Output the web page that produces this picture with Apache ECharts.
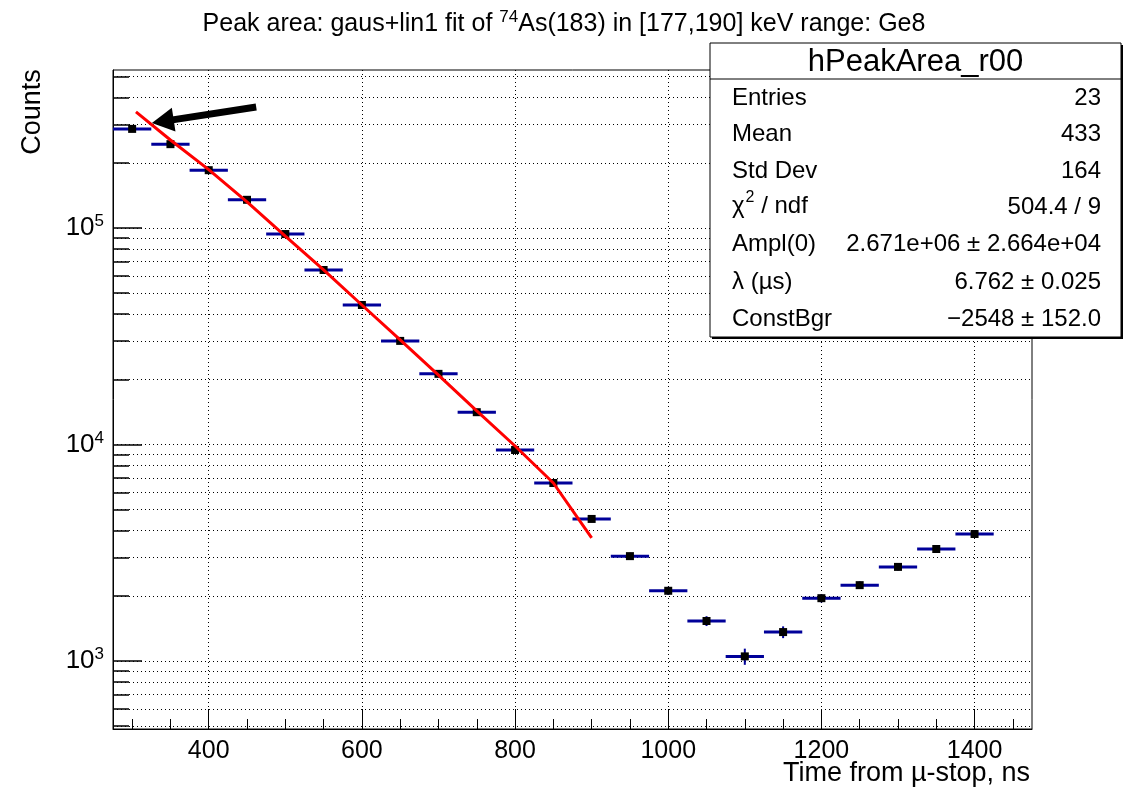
<!DOCTYPE html>
<html>
<head>
<meta charset="utf-8">
<title>hPeakArea_r00</title>
<script src="https://cdn.jsdelivr.net/npm/echarts@6/dist/echarts.min.js"></script>
<style>
  html, body { margin: 0; padding: 0; background: #ffffff; }
  #chart { width: 1128px; height: 789px; }
</style>
</head>
<body>
<div id="chart"></div>
<script>
// Histogram bins: centre of each 50 ns time bin and the fitted peak area in it
const binWidth = 50;
const binCenters = [300, 350, 400, 450, 500, 550, 600, 650, 700, 750, 800, 850,
                    900, 950, 1000, 1050, 1100, 1150, 1200, 1250, 1300, 1350, 1400];
const counts = [287000, 244000, 185000, 135000, 93800, 64000, 44100, 30100, 21200, 14100, 9430, 6640,
                4530, 3050, 2110, 1530, 1050, 1360, 1950, 2240, 2720, 3290, 3860];
const countErrors = [6000, 4500, 3300, 2300, 1600, 1100, 800, 600, 450, 330, 250, 200,
                     150, 110, 90, 80, 90, 85, 85, 90, 100, 110, 120];

// Exponential + constant fit curve, sampled along the drawn line
const fitTimes = [305, 350, 400, 450, 500, 550, 600, 650, 700, 750, 800, 850, 900];
const fitCounts = [344000, 255000, 186000, 132000, 91800, 64000, 44100, 30400, 20900, 14300, 9840, 6640, 3700];

// Annotation arrow pointing at the first bin (tail, head)
const arrowFrom = [462, 362000];
const arrowTo = [340, 311000];

// Axis ticks
const xMinorTicks = [300, 350, 400, 450, 500, 550, 600, 650, 700, 750, 800, 850, 900, 950,
                     1000, 1050, 1100, 1150, 1200, 1250, 1300, 1350, 1400, 1450];
const xMajorTicks = [400, 600, 800, 1000, 1200, 1400];
const yAllTicks = [500, 600, 700, 800, 900,
                   1000, 2000, 3000, 4000, 5000, 6000, 7000, 8000, 9000,
                   10000, 20000, 30000, 40000, 50000, 60000, 70000, 80000, 90000,
                   100000, 200000, 300000, 400000, 500000];
const yDecadeTicks = [1000, 10000, 100000];

// Statistics box rows
const statsTitle = 'hPeakArea_r00';
const statsLabels = ['Entries', 'Mean', 'Std Dev', '{t|χ}{s|2}{t| / ndf}', 'Ampl(0)', 'λ (µs)', 'ConstBgr'];
const statsValues = ['23', '433', '164', '504.4 / 9', '2.671e+06 ± 2.664e+04', '6.762 ± 0.025', '−2548 ± 152.0'];

const FONT = '"Liberation Sans", Arial, Helvetica, sans-serif';
const histBlue = '#000099';
const gridDots = { type: [1, 3], color: '#000000', width: 1 };

const chart = echarts.init(document.getElementById('chart'), null, { renderer: 'canvas' });

const xRange = { min: 275, max: 1475 };
const yRange = { min: 485, max: 537000 };

function supLabel(v) {
  return '{b|10}{s|' + Math.round(Math.log10(v)) + '}';
}

// Stats box drawn as graphic elements on top of the plot
const box = { x: 710, y: 43, w: 411, h: 294, headerH: 36 };
const rowY = [98, 134, 171, 207, 244, 282, 319];
const statsRich = {
  t: { font: '24px ' + FONT, fill: '#000', lineHeight: 28, verticalAlign: 'bottom' },
  s: { font: '16px ' + FONT, fill: '#000', lineHeight: 28, verticalAlign: 'top', padding: [0, 0, 0, 1] }
};
const statsGraphics = [
  { type: 'rect', z: 100, shape: { x: box.x + 2, y: box.y + 2, width: box.w, height: box.h },
    style: { fill: '#000000' }, silent: true },
  { type: 'rect', z: 101, shape: { x: box.x, y: box.y, width: box.w, height: box.h },
    style: { fill: '#ffffff', stroke: '#000000', lineWidth: 1 }, silent: true },
  { type: 'line', z: 102, shape: { x1: box.x, y1: box.y + box.headerH, x2: box.x + box.w, y2: box.y + box.headerH },
    style: { stroke: '#000000', lineWidth: 1 }, silent: true },
  { type: 'text', z: 102, x: box.x + box.w / 2, y: box.y + box.headerH / 2 + 1,
    style: { text: statsTitle, font: '31px ' + FONT, fill: '#000', align: 'center', verticalAlign: 'middle' }, silent: true }
];
statsLabels.forEach(function (lab, i) {
  const isRich = lab.indexOf('{') === 0;
  statsGraphics.push({ type: 'text', z: 102, x: 732, y: isRich ? rowY[i] - 3 : rowY[i],
    style: isRich
      ? { text: lab, rich: statsRich, align: 'left', verticalAlign: 'middle' }
      : { text: lab, font: '24px ' + FONT, fill: '#000', align: 'left', verticalAlign: 'middle' },
    silent: true });
  statsGraphics.push({ type: 'text', z: 102, x: 1101, y: rowY[i],
    style: { text: statsValues[i], font: '24px ' + FONT, fill: '#000', align: 'right', verticalAlign: 'middle' }, silent: true });
});

// Axis titles
statsGraphics.push({ type: 'text', z: 50, x: 33, y: 112, rotation: Math.PI / 2,
  style: { text: 'Counts', font: '27px ' + FONT, fill: '#000', align: 'center', verticalAlign: 'middle' }, silent: true });
statsGraphics.push({ type: 'text', z: 50, x: 1030, y: 774,
  style: { text: 'Time from µ-stop, ns', font: '27px ' + FONT, fill: '#000', align: 'right', verticalAlign: 'middle' }, silent: true });

const option = {
  animation: false,
  backgroundColor: '#ffffff',
  title: {
    text: '{t|Peak area: gaus+lin1 fit of }{s|74}{t|As(183) in [177,190] keV range: Ge8}',
    left: 'center',
    top: 4,
    textStyle: {
      fontFamily: FONT, fontSize: 25, fontWeight: 'normal', color: '#000',
      rich: {
        t: { fontFamily: FONT, fontSize: 25, lineHeight: 28, verticalAlign: 'bottom', color: '#000' },
        s: { fontFamily: FONT, fontSize: 17, lineHeight: 28, verticalAlign: 'top', color: '#000' }
      }
    }
  },
  grid: {
    left: 113, right: 96, top: 70, bottom: 60,
    show: true, borderColor: '#000000', borderWidth: 1, backgroundColor: 'transparent'
  },
  xAxis: [
    {
      type: 'value', min: xRange.min, max: xRange.max, position: 'bottom',
      axisLine: { show: true, onZero: false, lineStyle: { color: '#000', width: 1 } },
      axisTick: { show: true, inside: true, length: 10, customValues: xMinorTicks, lineStyle: { color: '#000', width: 1 } },
      axisLabel: { show: false },
      splitLine: { show: false }
    },
    {
      type: 'value', min: xRange.min, max: xRange.max, position: 'bottom',
      axisLine: { show: false, onZero: false },
      axisTick: { show: true, inside: true, length: 20, customValues: xMajorTicks, lineStyle: { color: '#000', width: 1 } },
      axisLabel: {
        show: true, customValues: xMajorTicks, margin: 10, fontFamily: FONT, fontSize: 25, color: '#000',
        formatter: function (v) { return String(v); }
      },
      splitLine: { show: true, lineStyle: gridDots }
    }
  ],
  yAxis: [
    {
      type: 'log', logBase: 10, min: yRange.min, max: yRange.max, position: 'left',
      axisLine: { show: true, onZero: false, lineStyle: { color: '#000', width: 1 } },
      axisTick: { show: true, inside: true, length: 16, customValues: yAllTicks, lineStyle: { color: '#000', width: 1.5 } },
      axisLabel: { show: false },
      splitLine: { show: true, lineStyle: gridDots }
    },
    {
      type: 'log', logBase: 10, min: yRange.min, max: yRange.max, position: 'left',
      axisLine: { show: false, onZero: false },
      axisTick: { show: true, inside: true, length: 29, customValues: yDecadeTicks, lineStyle: { color: '#000', width: 1.5 } },
      axisLabel: {
        show: true, customValues: yDecadeTicks, margin: 9,
        formatter: supLabel,
        rich: {
          b: { fontFamily: FONT, fontSize: 26, lineHeight: 30, color: '#000' },
          s: { fontFamily: FONT, fontSize: 17, lineHeight: 20, verticalAlign: 'top', color: '#000' }
        }
      },
      splitLine: { show: false }
    }
  ],
  graphic: statsGraphics,
  series: [
    {
      name: 'hPeakArea_r00',
      type: 'custom',
      xAxisIndex: 0, yAxisIndex: 0,
      clip: true,
      z: 3,
      encode: { x: 0, y: 1 },
      data: binCenters.map(function (t, i) { return [t, counts[i], countErrors[i]]; }),
      renderItem: function (params, api) {
        const t = api.value(0), n = api.value(1), e = api.value(2);
        const left = api.coord([t - binWidth / 2, n]);
        const right = api.coord([t + binWidth / 2, n]);
        const c = api.coord([t, n]);
        const lo = api.coord([t, n - e]);
        const hi = api.coord([t, n + e]);
        return {
          type: 'group',
          children: [
            { type: 'line', shape: { x1: left[0], y1: left[1], x2: right[0], y2: right[1] },
              style: { stroke: histBlue, lineWidth: 3 } },
            { type: 'line', shape: { x1: c[0], y1: lo[1], x2: c[0], y2: hi[1] },
              style: { stroke: histBlue, lineWidth: 2 } },
            { type: 'rect', shape: { x: c[0] - 4, y: c[1] - 4, width: 8, height: 8 },
              style: { fill: '#000000' } }
          ]
        };
      }
    },
    {
      name: 'fit',
      type: 'line',
      xAxisIndex: 0, yAxisIndex: 0,
      z: 4,
      data: fitTimes.map(function (t, i) { return [t, fitCounts[i]]; }),
      showSymbol: false,
      symbol: 'none',
      smooth: false,
      silent: true,
      lineStyle: { color: '#ff0000', width: 3 },
      markLine: {
        silent: true,
        symbol: ['none', 'triangle'],
        symbolSize: [24, 22],
        label: { show: false },
        emphasis: { disabled: true },
        lineStyle: { color: '#000000', width: 7, type: 'solid' },
        data: [[{ coord: arrowFrom }, { coord: arrowTo }]]
      }
    }
  ]
};

chart.setOption(option);
</script>
</body>
</html>
